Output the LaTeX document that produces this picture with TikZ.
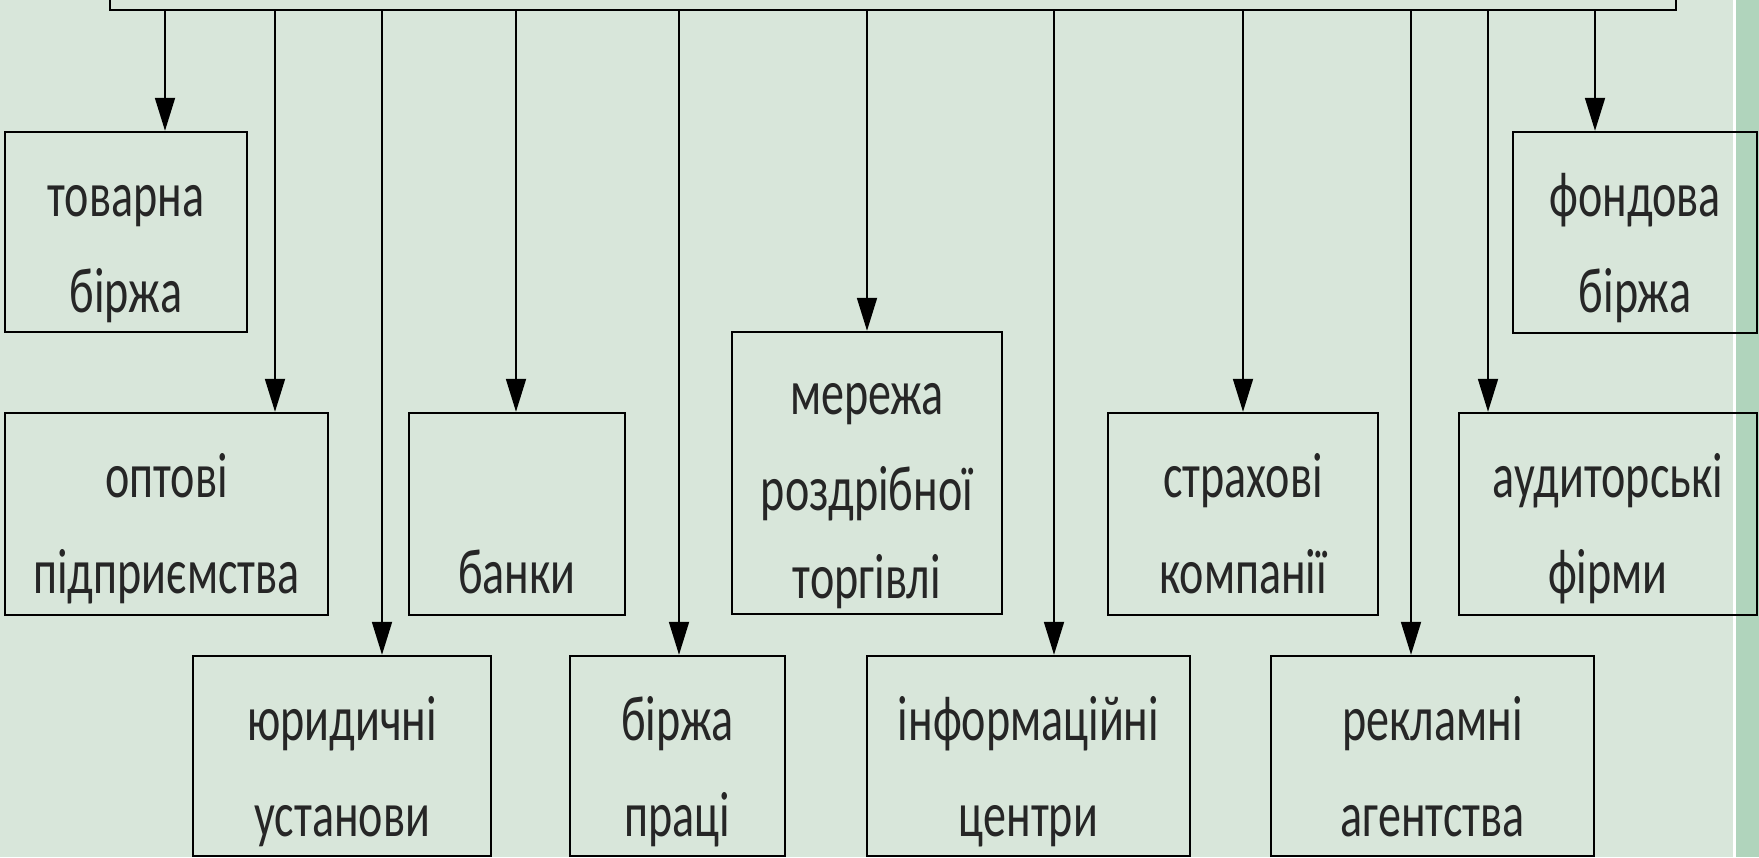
\documentclass[tikz,border=0pt]{standalone}
\usepackage{fontspec}
\newfontfamily\lblfont[FakeStretch=0.72]{Carlito}
\usetikzlibrary{arrows.meta,fit}
\definecolor{bgc}{HTML}{D8E6DA}
\definecolor{stripc}{HTML}{B0D4BC}
\newcommand\twolines[3]{%
  \node[lbl] (#1a) at ([yshift=-43pt]#1.north) {#2};
  \node[lbl] (#1b) at ([yshift=-91pt]#1.north) {#3};}
\begin{document}
\begin{tikzpicture}[x=0.5pt,y=-0.5pt,
  orgbox/.style={draw=black,line width=1.2pt,inner sep=0pt},
  lbl/.style={font=\lblfont\fontsize{32}{38}\selectfont,inner sep=0pt,anchor=base,text=black!85},
  arr/.style={draw=black,line width=0.9pt,-{Triangle[length=16.5pt,width=10pt]}}]
\useasboundingbox (0,0) rectangle (1759,857);
\clip (0,0) rectangle (1759,857);
\fill[bgc] (0,0) rectangle (1759,857);
\fill[stripc] (1736,0) rectangle (1759,857);
\fill[white] (1733,0) rectangle (1736,857);
% root box (only its lower part is visible)
\node[orgbox,fit={(110,-60) (1676,10)}] (top) {};
% boxes
\node[orgbox,fit={(5,132) (247,332)}] (tov) {};
\node[orgbox,fit={(1513,132) (1757,333)}] (fond) {};
\node[orgbox,fit={(5,413) (328,615)}] (opt) {};
\node[orgbox,fit={(409,413) (625,615)}] (bank) {};
\node[orgbox,fit={(732,332) (1002,614)}] (mer) {};
\node[orgbox,fit={(1108,413) (1378,615)}] (str) {};
\node[orgbox,fit={(1459,413) (1757,615)}] (aud) {};
\node[orgbox,fit={(193,656) (491,856)}] (yur) {};
\node[orgbox,fit={(570,656) (785,856)}] (birp) {};
\node[orgbox,fit={(867,656) (1190,856)}] (inf) {};
\node[orgbox,fit={(1271,656) (1594,856)}] (rek) {};
% texts
\twolines{tov}{товарна}{біржа}
\twolines{fond}{фондова}{біржа}
\twolines{opt}{оптові}{підприємства}
\node[lbl] (banka) at ([yshift=-91pt]bank.north) {банки};
\node[lbl] (mera) at ([yshift=-42pt]mer.north) {мережа};
\node[lbl] (merb) at ([yshift=-90pt]mer.north) {роздрібної};
\node[lbl] (merc) at ([yshift=-134pt]mer.north) {торгівлі};
\twolines{str}{страхові}{компанії}
\twolines{aud}{аудиторські}{фірми}
\twolines{yur}{юридичні}{установи}
\twolines{birp}{біржа}{праці}
\twolines{inf}{інформаційні}{центри}
\twolines{rek}{рекламні}{агентства}
% connector x positions
\coordinate (xtov) at (165,0);
\coordinate (xopt) at (275,0);
\coordinate (xyur) at (382,0);
\coordinate (xbank) at (516,0);
\coordinate (xbirp) at (679,0);
\coordinate (xmer) at (867,0);
\coordinate (xinf) at (1054,0);
\coordinate (xstr) at (1243,0);
\coordinate (xrek) at (1411,0);
\coordinate (xaud) at (1488,0);
\coordinate (xfond) at (1595,0);
\foreach \b in {tov,opt,yur,bank,birp,mer,inf,str,rek,aud,fond}
  \draw[arr] (top.south -| x\b) -- (\b.north -| x\b);
\end{tikzpicture}
\end{document}
